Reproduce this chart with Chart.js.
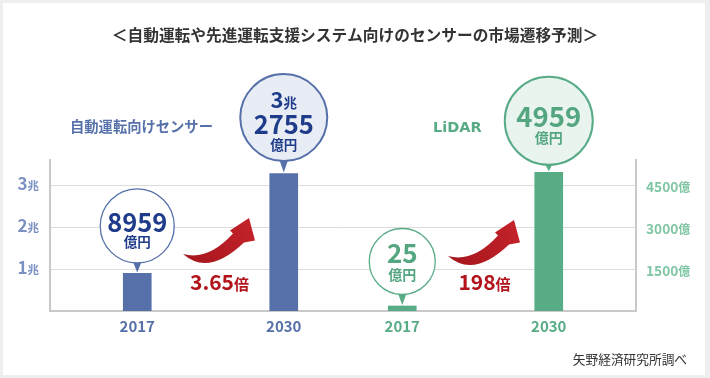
<!DOCTYPE html>
<html><head><meta charset="utf-8">
<script src="https://cdn.jsdelivr.net/npm/chart.js@4"></script>
<style>
html,body{margin:0;padding:0;background:#eeeeee;width:710px;height:378px;overflow:hidden}
#card{position:absolute;left:3px;top:3px;width:702px;height:372px;background:#fff}
#c{position:absolute;left:0;top:0}
</style></head><body>
<div id="card"></div>
<canvas id="c" width="710" height="378"></canvas>
<script>
// ---- data ----
const chartTitle = '＜自動運転や先進運転支援システム向けのセンサーの市場遷移予測＞';
const sourceNote = '矢野経済研究所調べ';
const sensorName = '自動運転向けセンサー';
const lidarName = 'LiDAR';
const years = ['2017', '2030', '2017', '2030'];
const sensorValues = [0.8959, 3.2755, null, null];   // 兆円
const lidarValues = [null, null, 25, 4959];          // 億円
const sensorTicks = [1, 2, 3];                        // 兆
const lidarTicks = [1500, 3000, 4500];                // 億
const sensorTickUnit = '兆';
const lidarTickUnit = '億';
const sensorBubbles = [['8959', '億円'], ['3兆', '2755', '億円']];
const lidarBubbles = [['25', '億円'], ['4959', '億円']];
const sensorGrowth = '3.65倍';
const lidarGrowth = '198倍';

// ---- styles ----
const FONT = '"Noto Sans CJK JP","Noto Sans",sans-serif';
const LATIN = '"DejaVu Sans",sans-serif';
const BLUE = '#5670a9', GREEN = '#57ab85', RED = '#b3141c';
const NAVY = '#1f3c8a', GTEXT = '#53a680';

function measure(ctx, s, size, weight, fam) {
  ctx.font = `${weight} ${size}px ${fam}`;
  return ctx.measureText(s).width;
}
function mixed(ctx, s, x, yc, bigSize, smallSize, color, align, weight = 'bold', fam = FONT) {
  const parts = s.match(/[0-9.]+|[^0-9.]+/g);
  const items = parts.map(p => {
    const num = /^[0-9.]+$/.test(p);
    const size = num ? bigSize : smallSize;
    return { p, size, w: measure(ctx, p, size, weight, fam) };
  });
  const total = items.reduce((a, b) => a + b.w, 0);
  const maxSize = Math.max(...items.map(i => i.size));
  let sx = align === 'center' ? x - total / 2 : align === 'right' ? x - total : x;
  const base = yc + 0.37 * maxSize;
  ctx.fillStyle = color; ctx.textAlign = 'left'; ctx.textBaseline = 'alphabetic';
  items.forEach(it => {
    ctx.font = `${weight} ${it.size}px ${fam}`;
    ctx.fillText(it.p, sx, base);
    sx += it.w;
  });
}
function drawArrow(ctx, tx, ty) {
  ctx.beginPath();
  ctx.moveTo(tx, ty);
  ctx.quadraticCurveTo(tx + 25.5, ty + 22.5, tx + 61, ty - 11.5);
  ctx.lineTo(tx + 72, ty - 13.5);
  ctx.lineTo(tx + 66, ty - 36);
  ctx.lineTo(tx + 47, ty - 23.5);
  ctx.lineTo(tx + 50, ty - 20.5);
  ctx.quadraticCurveTo(tx + 25, ty + 7, tx, ty);
  ctx.closePath();
  const g = ctx.createLinearGradient(tx, ty, tx + 66, ty - 36);
  g.addColorStop(0, '#a5161c');
  g.addColorStop(1, '#c4222a');
  ctx.fillStyle = g;
  ctx.fill();
}
function drawBubble(ctx, cx, tip, spec, lines, color, textColor) {
  const cy = tip - spec.above;
  ctx.beginPath();
  ctx.moveTo(cx - 5, cy + spec.r - 3);
  ctx.lineTo(cx + 5, cy + spec.r - 3);
  ctx.lineTo(cx, tip);
  ctx.closePath();
  ctx.fillStyle = color; ctx.fill();
  ctx.beginPath();
  ctx.arc(cx, cy, spec.r, 0, Math.PI * 2);
  ctx.fillStyle = spec.fill; ctx.fill();
  ctx.lineWidth = spec.lw; ctx.strokeStyle = color; ctx.stroke();
  lines.forEach((ln, i) => {
    mixed(ctx, ln, cx, cy + spec.offs[i], spec.num[i] || spec.kanji, spec.kanji, textColor, 'center');
  });
}

const series = [
  { ds: 1, color: BLUE, text: NAVY, bubbles: sensorBubbles, growth: sensorGrowth, arrowDy: 0,
    specs: [
      { r: 37, above: 46.5, lw: 1.3, fill: '#ffffff', offs: [-3.5, 16], num: [25.5], kanji: 13.5 },
      { r: 43.5, above: 55, lw: 2, fill: '#e8ecf5', offs: [-17.5, 6.5, 27], num: [22, 25.5], kanji: 13.5 }
    ] },
  { ds: 0, color: GREEN, text: GTEXT, bubbles: lidarBubbles, growth: lidarGrowth, arrowDy: 2,
    specs: [
      { r: 33, above: 43.5, lw: 1.3, fill: '#ffffff', offs: [-8, 13], num: [26], kanji: 14 },
      { r: 44, above: 50.5, lw: 2, fill: '#e9f4ef', offs: [-4, 16.5], num: [27.5], kanji: 14 }
    ] }
];

const decor = {
  id: 'decor',
  afterDraw(chart) {
    const ctx = chart.ctx, ca = chart.chartArea;
    ctx.save();
    mixed(ctx, chartTitle, 355, 35, 15.7, 15.7, '#333333', 'center');
    mixed(ctx, sensorName, 70, 127, 14.3, 14.3, BLUE, 'left');
    mixed(ctx, lidarName, 433, 126.5, 14.5, 14.5, GREEN, 'left', 'bold', LATIN);
    mixed(ctx, sourceNote, 687, 359, 12.7, 12.7, '#333333', 'right', 'normal');

    const sy = chart.scales.y, sy2 = chart.scales.y2;
    sy.ticks.forEach(t => mixed(ctx, t.value + sensorTickUnit, 39, sy.getPixelForValue(t.value) - 1.5, 17, 11.5, '#7b90c3', 'right'));
    sy2.ticks.forEach(t => mixed(ctx, t.value + lidarTickUnit, 646, sy2.getPixelForValue(t.value) + 1.5, 13.7, 12, '#80c6a5', 'left'));

    series.forEach(s => {
      const meta = chart.getDatasetMeta(s.ds);
      const vals = chart.data.datasets[s.ds].data;
      const els = [];
      vals.forEach((v, i) => { if (v !== null) els.push({ el: meta.data[i], i }); });
      els.forEach(({ el, i }) => {
        mixed(ctx, years[i], el.x, 326.5, 15, 15, s.color, 'center');
      });
      els.forEach(({ el }, k) => {
        drawBubble(ctx, el.x, el.y - 1, s.specs[k], s.bubbles[k], s.color, s.text);
      });
      const mid = (els[0].el.x + els[1].el.x) / 2;
      drawArrow(ctx, mid - 27.5, ca.bottom - 57 + s.arrowDy);
      mixed(ctx, s.growth, mid + 9, ca.bottom - 29, 21, 15, RED, 'center');
    });
    ctx.restore();
  }
};

new Chart(document.getElementById('c'), {
  type: 'bar',
  data: {
    labels: years,
    datasets: [
      { label: lidarName, data: lidarValues, yAxisID: 'y2', backgroundColor: GREEN, minBarLength: 5 },
      { label: sensorName, data: sensorValues, yAxisID: 'y', backgroundColor: BLUE }
    ]
  },
  options: {
    responsive: false, animation: false, devicePixelRatio: 1,
    layout: { padding: { left: 0, right: 0, top: 160, bottom: 67 } },
    datasets: { bar: { barThickness: 28, categoryPercentage: 0.355, barPercentage: 1 } },
    plugins: { legend: { display: false }, tooltip: { enabled: false }, title: { display: false } },
    scales: {
      x: {
        ticks: { display: false },
        grid: { display: false, drawTicks: false },
        border: { display: true, color: '#c9c9c9', width: 2 },
        afterFit(s) { s.height = 0; }
      },
      y: {
        position: 'left', min: 0, max: 3.6,
        afterBuildTicks(s) { s.ticks = sensorTicks.map(v => ({ value: v })); },
        ticks: { display: false },
        grid: { color: '#dcdcdc', lineWidth: 1, drawTicks: false },
        border: { display: true, color: '#c9c9c9', width: 2 },
        afterFit(s) { s.width = 50; }
      },
      y2: {
        position: 'right', min: 0, max: 5400,
        afterBuildTicks(s) { s.ticks = lidarTicks.map(v => ({ value: v })); },
        ticks: { display: false },
        grid: { display: false, drawTicks: false },
        border: { display: true, color: '#c9c9c9', width: 2 },
        afterFit(s) { s.width = 74; }
      }
    }
  },
  plugins: [decor]
});
</script>
</body></html>
